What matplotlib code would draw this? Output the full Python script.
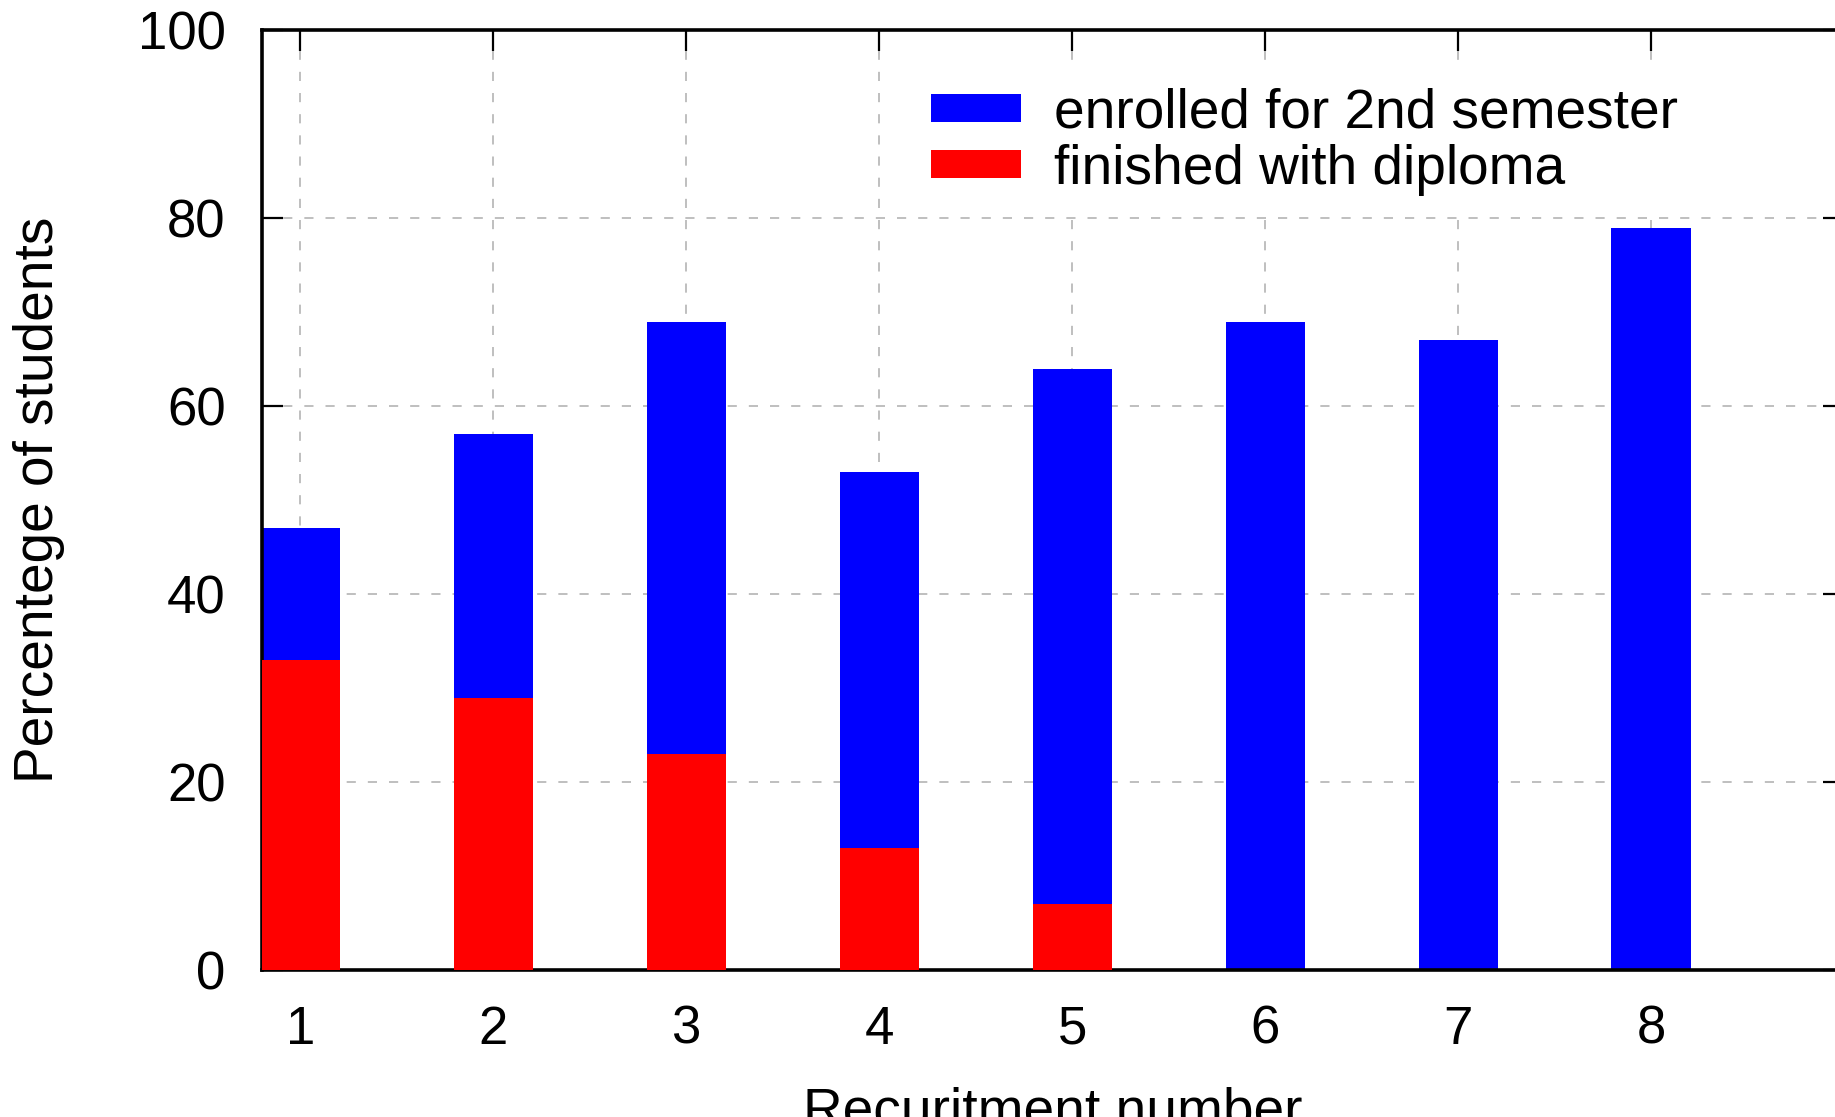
import matplotlib
matplotlib.use('Agg')
import matplotlib.pyplot as plt

# recruitment rounds and share of students (%)
recruitment = [1, 2, 3, 4, 5, 6, 7, 8]
enrolled_2nd = [47, 57, 69, 53, 64, 69, 67, 79]
finished_diploma = [33, 29, 23, 13, 7, 0, 0, 0]
yticks = [0, 20, 40, 60, 80, 100]

plt.rcParams['font.family'] = 'Liberation Sans'

fig = plt.figure(figsize=(18.35, 11.17), dpi=100)
# axes runs a bit past the right edge, like the cropped original
ax = fig.add_axes([0.1426, 0.1314, 0.8623, 0.8415])

ax.bar(recruitment, enrolled_2nd, width=0.41, color='#0000ff',
       label='enrolled for 2nd semester', zorder=2)
ax.bar(recruitment, finished_diploma, width=0.41, color='#ff0000',
       label='finished with diploma', zorder=3)

ax.set_xlim(0.8, 9.0)
ax.set_ylim(0, 100)
ax.set_xticks(recruitment)
ax.set_yticks(yticks)
ax.tick_params(direction='in', length=15, width=1.6, top=True, right=True,
               labelsize=38, colors='black')
ax.tick_params(axis='x', pad=25)
ax.tick_params(axis='y', pad=26)
for s in ax.spines.values():
    s.set_linewidth(2.6)

ax.set_axisbelow(True)
ax.grid(True, color='#b4b4b4', linewidth=1.2, linestyle=(0, (5.5, 7.2)))

ax.set_xlabel('Recuritment number', fontsize=39.6, labelpad=23)
ax.set_ylabel('Percentege of students', fontsize=39.6, labelpad=52)

# opaque key box hides the vertical grid behind it, but not the 80 line
ax.legend(loc='upper left', bbox_to_anchor=(0.4102, 0.960), borderaxespad=0,
          fontsize=39.6, handlelength=1.64, handleheight=0.42, handletextpad=0.6,
          labelspacing=0.07, borderpad=0.36, frameon=True, fancybox=False,
          framealpha=1, edgecolor='none', facecolor='white')

fig.savefig('out.png', dpi=100)
